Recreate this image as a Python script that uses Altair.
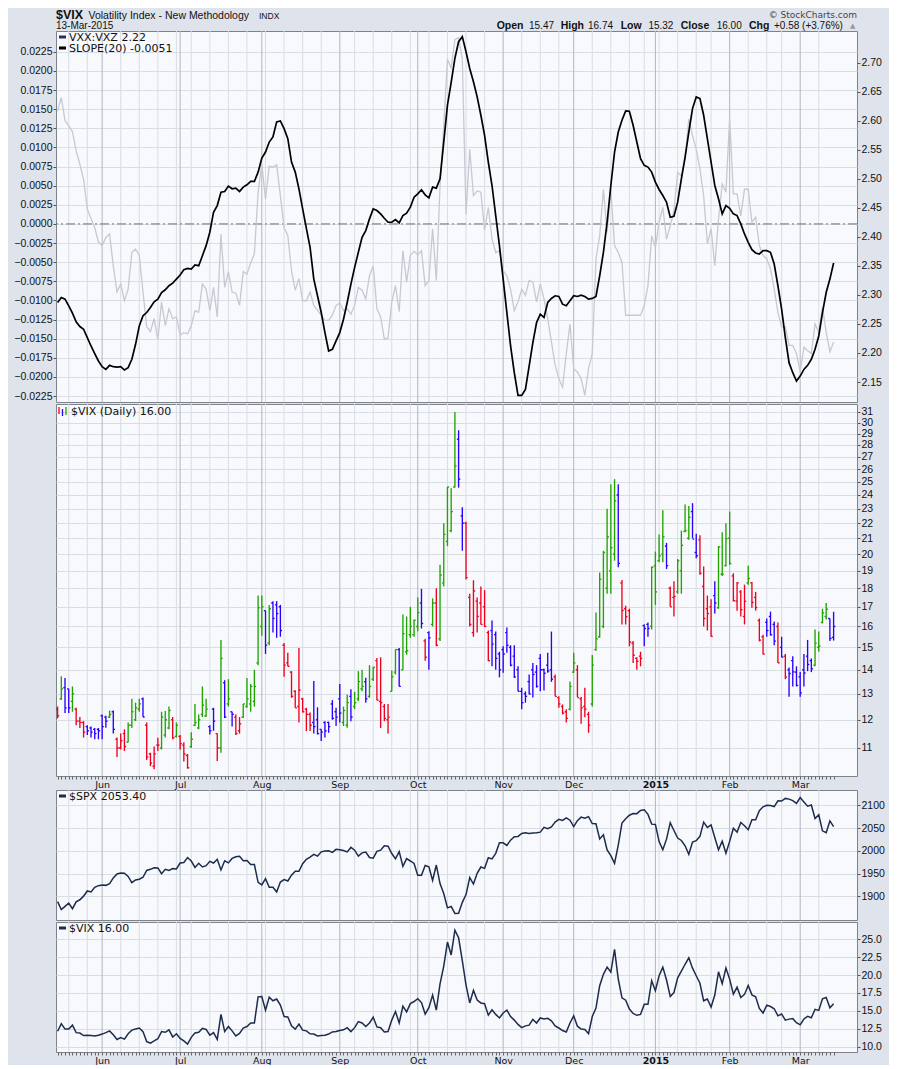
import altair as alt
import pandas as pd

# ---------------- data ----------------
# trading-day index 0 = 14-May-2014 ... 209 = 13-Mar-2015
month_idx = [12, 33, 55, 76, 97, 120, 139, 161, 181, 200]
month_lab = ["Jun", "Jul", "Aug", "Sep", "Oct", "Nov", "Dec", "2015", "Feb", "Mar"]
week_idx = [3, 8, 17, 22, 27, 32, 36, 41, 46, 51, 56, 61, 66, 71, 80, 85, 90, 95,
            100, 105, 110, 115, 125, 130, 135, 144, 149, 154, 158, 162, 167, 172,
            176, 186, 191, 195, 205]

vix_color = list(
    "rgbbgrrrbb" "bbbbgbrrrg" "gggbrrrrgg" "grgrrrgggg" "gbbrgbgbrr"
    "ggggggbgbb" "brrrrrrrrb" "bbbbbbbggb" "gggbggrrrr" "ggbgggggbr"
    "bgrgggggbb" "rrrrrrrbbb" "bbbbbbbbbb" "bbbbrrrrgg" "rrrrgggggg"
    "gbrrrrrrbb" "ggggbrrggg" "gbbrrrrbgg" "ggrrrrgrrr" "rbbbrbrbbb"
    "bbbbggggbb")

vix_high = [
    12.50, 13.72, 13.65, 13.20, 13.30, 12.45, 12.10, 11.95, 11.80, 11.75,
    11.70, 11.70, 12.20, 12.15, 12.35, 12.35, 11.36, 11.50, 11.65, 11.90,
    12.80, 12.65, 12.80, 12.85, 11.90, 10.84, 11.05, 11.35, 12.30, 12.33,
    12.50, 12.10, 11.90, 11.45, 11.20, 10.80, 11.55, 12.60, 12.20, 13.30,
    12.80, 11.80, 12.45, 11.50, 15.35, 13.55, 13.60, 12.30, 12.20, 12.10,
    12.60, 13.65, 13.40, 14.00, 17.60, 17.60, 16.80, 17.10, 17.30, 17.30,
    17.10, 15.20, 14.75, 13.94, 13.14, 14.97, 12.84, 12.45, 12.27, 13.52,
    12.47, 11.65, 11.95, 11.93, 12.75, 12.45, 13.40, 12.50, 12.97, 13.18,
    13.08, 13.94, 14.00, 13.66, 14.20, 14.13, 14.52, 14.55, 12.60, 12.60,
    13.97, 14.90, 14.97, 16.60, 16.50, 17.00, 16.35, 17.50, 17.97, 15.40,
    15.76, 17.45, 18.00, 19.35, 22.00, 24.60, 24.50, 31.00, 29.30, 23.10,
    22.10, 17.70, 18.45, 17.50, 18.10, 17.90, 15.80, 16.30, 15.75, 14.80,
    15.05, 15.95, 15.10, 15.10, 14.15, 13.25, 13.10, 13.80, 14.30, 14.20,
    14.70, 14.05, 14.75, 15.75, 13.80, 12.90, 12.58, 12.40, 13.50, 14.75,
    14.20, 12.87, 13.25, 12.30, 14.65, 16.70, 18.90, 20.20, 23.00, 24.80,
    25.20, 24.80, 18.47, 17.05, 16.90, 15.30, 14.55, 14.80, 16.10, 16.20,
    19.25, 20.15, 21.25, 22.90, 20.70, 18.10, 18.40, 19.70, 21.50, 23.30,
    23.20, 23.40, 21.30, 21.20, 19.25, 17.60, 17.40, 18.40, 20.50, 21.40,
    22.00, 22.80, 18.85, 18.35, 17.90, 18.20, 19.30, 18.35, 17.80, 16.40,
    15.60, 16.40, 16.75, 16.25, 16.20, 15.50, 14.70, 14.10, 14.60, 14.15,
    13.90, 14.70, 15.35, 14.50, 15.85, 15.75, 16.90, 17.20, 16.40, 16.74]

vix_low = [
    12.05, 12.75, 12.25, 12.25, 12.30, 11.80, 11.70, 11.36, 11.45, 11.36,
    11.30, 11.30, 11.30, 11.71, 12.07, 11.50, 10.70, 10.95, 10.90, 11.20,
    11.70, 11.95, 12.30, 12.10, 10.60, 10.40, 10.30, 10.90, 10.95, 11.36,
    11.65, 11.30, 11.36, 10.95, 10.55, 10.32, 11.00, 11.77, 11.65, 12.10,
    12.10, 11.47, 11.60, 10.57, 10.84, 12.07, 12.50, 11.75, 11.45, 11.50,
    12.07, 12.45, 12.30, 12.50, 14.20, 15.55, 14.70, 15.10, 15.70, 15.45,
    15.50, 13.70, 14.15, 12.84, 12.45, 11.90, 12.27, 11.59, 11.59, 11.50,
    11.47, 11.24, 11.36, 11.53, 12.00, 11.77, 11.90, 11.77, 11.71, 11.95,
    12.40, 12.71, 13.10, 12.65, 12.84, 13.52, 12.74, 11.70, 11.95, 11.50,
    13.10, 13.80, 13.30, 14.00, 14.67, 15.45, 15.50, 15.76, 15.90, 14.40,
    14.00, 16.00, 15.05, 15.30, 18.10, 20.50, 21.40, 24.55, 24.55, 20.20,
    18.50, 16.00, 15.50, 15.70, 16.10, 15.97, 14.37, 14.15, 14.00, 13.68,
    13.87, 14.75, 14.15, 13.65, 13.10, 12.40, 12.65, 12.97, 12.85, 13.25,
    13.10, 13.13, 13.87, 13.49, 12.90, 12.45, 12.20, 11.90, 12.35, 13.87,
    12.87, 11.85, 12.09, 11.53, 12.50, 14.85, 15.45, 15.92, 17.70, 17.70,
    19.60, 19.20, 16.10, 16.10, 15.05, 14.30, 14.00, 14.15, 15.05, 15.50,
    15.85, 17.10, 19.50, 19.50, 19.10, 17.00, 16.50, 17.70, 17.70, 21.40,
    20.90, 21.00, 19.75, 18.76, 16.00, 15.80, 15.50, 16.65, 16.90, 18.70,
    19.25, 19.35, 17.28, 16.80, 16.50, 16.10, 18.20, 16.95, 16.80, 15.28,
    14.67, 15.50, 15.55, 15.10, 14.30, 14.55, 13.60, 12.88, 13.30, 13.30,
    12.88, 13.30, 13.94, 13.90, 14.15, 14.80, 16.15, 16.35, 15.30, 15.32]

vix_open = [
    12.40, 12.80, 13.25, 13.20, 12.70, 12.40, 11.95, 11.90, 11.75, 11.70,
    11.65, 11.65, 12.15, 12.10, 12.10, 12.30, 11.30, 11.00, 11.50, 11.20,
    11.80, 12.00, 12.40, 12.80, 11.80, 10.80, 10.40, 11.10, 11.00, 11.45,
    11.70, 12.00, 11.40, 11.40, 11.10, 10.75, 11.05, 11.80, 11.70, 12.20,
    12.15, 11.75, 12.40, 11.50, 11.00, 13.45, 12.60, 12.30, 12.10, 11.60,
    12.10, 12.50, 12.60, 12.70, 14.30, 16.00, 16.80, 15.20, 17.20, 17.10,
    17.00, 15.10, 14.30, 13.90, 13.10, 12.50, 12.80, 12.40, 12.20, 11.90,
    12.00, 11.65, 11.90, 11.90, 12.60, 12.30, 12.80, 11.90, 11.80, 12.90,
    12.50, 12.80, 13.20, 13.50, 12.90, 13.60, 14.40, 12.70, 12.50, 12.00,
    13.10, 13.90, 14.90, 14.00, 14.80, 15.60, 15.60, 16.00, 17.20, 15.30,
    15.70, 16.10, 17.20, 15.40, 18.30, 20.80, 21.50, 24.60, 28.50, 22.50,
    22.00, 17.50, 15.70, 17.30, 17.20, 17.00, 15.70, 15.80, 15.60, 14.70,
    14.90, 15.70, 15.00, 14.60, 14.00, 13.10, 13.00, 13.50, 14.00, 13.90,
    14.50, 14.00, 14.20, 14.00, 13.70, 12.85, 12.50, 12.30, 12.40, 13.90,
    14.00, 12.80, 12.50, 12.20, 12.60, 14.90, 15.50, 16.00, 18.00, 19.00,
    20.00, 24.00, 18.30, 16.90, 16.80, 15.20, 14.50, 14.60, 16.05, 16.10,
    16.00, 19.30, 19.60, 20.00, 20.50, 18.00, 17.50, 17.80, 19.00, 21.45,
    21.00, 22.80, 20.10, 20.90, 18.10, 16.90, 17.00, 17.60, 16.95, 18.80,
    19.30, 21.00, 18.70, 17.30, 17.80, 16.50, 18.30, 18.30, 17.50, 16.30,
    15.50, 16.20, 16.50, 16.10, 16.00, 15.00, 14.60, 14.00, 14.40, 13.90,
    13.70, 14.00, 14.60, 14.40, 14.20, 15.00, 16.20, 16.50, 16.40, 15.47]

vix_close = [
    12.15, 13.20, 12.45, 12.45, 13.00, 11.95, 11.90, 11.55, 11.60, 11.55,
    11.50, 11.60, 11.75, 11.95, 12.20, 11.65, 11.00, 11.25, 11.05, 11.80,
    12.30, 12.45, 12.60, 12.10, 10.70, 10.50, 10.80, 11.10, 12.10, 12.00,
    12.35, 11.35, 11.80, 11.15, 10.80, 10.35, 11.30, 11.90, 12.00, 12.55,
    12.40, 11.60, 11.95, 11.00, 14.50, 12.10, 12.80, 12.20, 11.50, 11.85,
    12.60, 12.80, 13.30, 13.30, 16.95, 17.00, 15.10, 16.90, 16.40, 16.65,
    15.80, 14.20, 14.15, 12.90, 12.45, 13.15, 12.30, 12.20, 11.80, 11.75,
    11.50, 11.55, 11.60, 11.75, 12.05, 12.10, 12.25, 12.35, 12.65, 12.10,
    12.65, 13.50, 13.30, 12.80, 13.30, 14.10, 12.75, 12.65, 12.05, 12.10,
    13.70, 14.90, 13.30, 15.65, 14.85, 16.00, 16.30, 16.70, 16.15, 14.55,
    15.45, 17.20, 15.10, 18.75, 21.25, 24.60, 22.80, 26.25, 25.20, 22.00,
    18.60, 16.10, 17.85, 16.50, 16.10, 16.00, 14.40, 15.15, 14.50, 14.00,
    14.70, 15.10, 14.20, 13.70, 13.10, 12.65, 12.90, 13.00, 13.80, 13.30,
    14.00, 13.85, 13.95, 13.60, 12.90, 12.60, 12.25, 12.05, 13.30, 14.30,
    12.85, 12.45, 12.40, 11.80, 14.20, 15.40, 18.50, 20.10, 21.10, 20.40,
    23.57, 19.44, 16.81, 16.49, 15.25, 14.64, 14.37, 14.50, 15.90, 15.90,
    19.20, 17.80, 19.90, 21.10, 19.30, 17.00, 17.55, 19.60, 20.55, 21.50,
    22.40, 20.95, 19.90, 18.85, 16.40, 16.65, 15.52, 17.20, 20.45, 18.80,
    20.97, 19.43, 17.33, 18.30, 16.85, 17.29, 18.55, 17.23, 16.96, 15.34,
    14.69, 15.80, 15.60, 15.29, 14.30, 14.56, 13.69, 13.84, 13.91, 13.34,
    13.04, 13.86, 14.23, 14.04, 15.20, 15.06, 16.69, 16.87, 15.42, 16.00]

spx_close = [
    1888.5, 1870.9, 1877.9, 1885.1, 1872.8, 1888.0, 1892.5, 1900.5, 1911.9, 1909.8,
    1920.0, 1923.6, 1925.0, 1924.2, 1927.9, 1940.5, 1949.4, 1951.3, 1950.8, 1943.9,
    1930.1, 1936.2, 1937.8, 1942.0, 1957.0, 1959.5, 1962.9, 1962.6, 1950.0, 1959.5,
    1957.2, 1961.0, 1960.2, 1973.3, 1974.6, 1985.4, 1977.7, 1963.7, 1972.8, 1964.7,
    1967.6, 1977.1, 1973.3, 1981.6, 1958.1, 1978.2, 1973.6, 1983.5, 1987.0, 1988.0,
    1978.3, 1978.9, 1970.0, 1970.1, 1930.7, 1925.2, 1939.0, 1920.2, 1920.2, 1909.6,
    1931.6, 1936.9, 1933.8, 1946.7, 1955.2, 1955.1, 1971.7, 1981.6, 1986.5, 1992.4,
    1988.4, 1997.9, 2000.0, 2000.1, 1996.7, 2003.4, 2002.3, 2000.7, 1997.7, 2007.7,
    2001.5, 1988.4, 1995.7, 1997.5, 1985.5, 1984.1, 1999.0, 2001.6, 2011.4, 2010.4,
    1994.3, 1982.8, 1998.3, 1966.0, 1982.9, 1977.8, 1972.3, 1946.2, 1946.2, 1967.9,
    1964.8, 1935.1, 1968.9, 1928.2, 1906.1, 1874.7, 1877.7, 1862.5, 1862.8, 1886.8,
    1904.0, 1941.3, 1927.1, 1950.8, 1964.6, 1961.6, 1985.1, 1982.3, 1994.7, 2018.1,
    2017.8, 2012.1, 2023.6, 2031.2, 2031.9, 2038.3, 2039.7, 2038.3, 2039.3, 2039.8,
    2041.3, 2051.8, 2048.7, 2052.8, 2063.5, 2069.4, 2067.0, 2072.8, 2067.6, 2053.4,
    2066.6, 2074.3, 2071.9, 2075.4, 2060.3, 2059.8, 2026.1, 2035.3, 2002.3, 1989.6,
    1972.7, 2012.9, 2061.2, 2070.7, 2078.5, 2082.2, 2081.9, 2088.8, 2090.6, 2080.4,
    2058.9, 2058.2, 2020.6, 2002.6, 2025.9, 2062.1, 2044.8, 2028.3, 2023.0, 2011.3,
    1992.7, 2019.4, 2022.6, 2032.1, 2063.2, 2051.8, 2057.1, 2029.6, 2002.2, 2021.3,
    1995.0, 2020.9, 2050.0, 2041.5, 2062.5, 2055.5, 2046.7, 2068.6, 2068.5, 2088.5,
    2097.0, 2100.3, 2099.7, 2097.5, 2110.3, 2109.7, 2115.5, 2113.9, 2110.7, 2104.5,
    2117.4, 2107.8, 2098.5, 2101.0, 2071.3, 2079.4, 2044.2, 2040.2, 2066.0, 2053.4]

slope20 = [
    -0.01027, -0.00961, -0.00983, -0.01070, -0.01167, -0.01280, -0.01341, -0.01376, -0.01485, -0.01595,
    -0.01695, -0.01791, -0.01866, -0.01901, -0.01848, -0.01866, -0.01870, -0.01866, -0.01909, -0.01879,
    -0.01769, -0.01573, -0.01333, -0.01201, -0.01158, -0.01092, -0.01018, -0.00983, -0.00896, -0.00861,
    -0.00808, -0.00773, -0.00721, -0.00668, -0.00599, -0.00581, -0.00590, -0.00537, -0.00546, -0.00415,
    -0.00284, -0.00109, 0.00153, 0.00240, 0.00415, 0.00424, 0.00494, 0.00459, 0.00467, 0.00424,
    0.00481, 0.00511, 0.00555, 0.00555, 0.00677, 0.00861, 0.00939, 0.01070, 0.01136, 0.01333,
    0.01346, 0.01245, 0.01114, 0.00808, 0.00677, 0.00459, 0.00197, -0.00057, -0.00306, -0.00721,
    -0.00939, -0.01158, -0.01420, -0.01660, -0.01638, -0.01529, -0.01420, -0.01245, -0.01027, -0.00786,
    -0.00568, -0.00371, -0.00175, -0.00087, 0.00066, 0.00197, 0.00175, 0.00131, 0.00074, 0.00022,
    0.00022, 0.00057, 0.00013, 0.00109, 0.00140, 0.00218, 0.00350, 0.00393, 0.00446, 0.00380,
    0.00341, 0.00481, 0.00467, 0.00590, 0.01070, 0.01551, 0.01850, 0.02163, 0.02381, 0.02447,
    0.02250, 0.02032, 0.01857, 0.01660, 0.01420, 0.01158, 0.00808, 0.00502, 0.00109, -0.00284,
    -0.00721, -0.01158, -0.01595, -0.01944, -0.02241, -0.02241, -0.02163, -0.01857, -0.01551, -0.01289,
    -0.01180, -0.01223, -0.01027, -0.00974, -0.00939, -0.00948, -0.01049, -0.01070, -0.01005, -0.00939,
    -0.00948, -0.00931, -0.00948, -0.00983, -0.00974, -0.00948, -0.00677, -0.00371, 0.00022, 0.00502,
    0.00939, 0.01201, 0.01354, 0.01477, 0.01472, 0.01289, 0.01070, 0.00852, 0.00765, 0.00743,
    0.00677, 0.00546, 0.00450, 0.00371, 0.00284, 0.00087, 0.00100, 0.00284, 0.00590, 0.00874,
    0.01201, 0.01507, 0.01660, 0.01638, 0.01420, 0.01114, 0.00808, 0.00502, 0.00328, 0.00131,
    0.00240, 0.00205, 0.00131, 0.00109, 0.00000, -0.00131, -0.00240, -0.00336, -0.00380, -0.00393,
    -0.00350, -0.00350, -0.00371, -0.00524, -0.00808, -0.01114, -0.01485, -0.01813, -0.01944, -0.02053,
    -0.01988, -0.01901, -0.01848, -0.01769, -0.01638, -0.01464, -0.01158, -0.00896, -0.00721, -0.00510]

vxx_vxz = [
    2.617, 2.640, 2.600, 2.591, 2.581, 2.548, 2.525, 2.499, 2.448, 2.431,
    2.416, 2.391, 2.385, 2.399, 2.405, 2.350, 2.305, 2.319, 2.290, 2.310,
    2.373, 2.379, 2.368, 2.305, 2.245, 2.237, 2.259, 2.223, 2.288, 2.247,
    2.276, 2.259, 2.262, 2.231, 2.235, 2.233, 2.247, 2.273, 2.270, 2.319,
    2.310, 2.273, 2.313, 2.262, 2.405, 2.313, 2.340, 2.305, 2.303, 2.282,
    2.340, 2.336, 2.355, 2.371, 2.477, 2.525, 2.465, 2.522, 2.520, 2.524,
    2.471, 2.416, 2.402, 2.342, 2.308, 2.328, 2.290, 2.290, 2.305, 2.282,
    2.274, 2.265, 2.256, 2.256, 2.265, 2.282, 2.286, 2.273, 2.276, 2.267,
    2.282, 2.313, 2.308, 2.293, 2.333, 2.350, 2.276, 2.262, 2.224, 2.226,
    2.288, 2.316, 2.271, 2.376, 2.322, 2.368, 2.375, 2.369, 2.376, 2.316,
    2.325, 2.414, 2.325, 2.488, 2.591, 2.706, 2.691, 2.740, 2.743, 2.706,
    2.439, 2.551, 2.471, 2.479, 2.477, 2.411, 2.451, 2.396, 2.373, 2.376,
    2.342, 2.333, 2.310, 2.273, 2.288, 2.310, 2.299, 2.325, 2.322, 2.288,
    2.319, 2.293, 2.259, 2.219, 2.179, 2.156, 2.141, 2.199, 2.250, 2.173,
    2.167, 2.156, 2.127, 2.173, 2.199, 2.362, 2.402, 2.482, 2.408, 2.482,
    2.385, 2.373, 2.356, 2.265, 2.265, 2.265, 2.265, 2.265, 2.282, 2.316,
    2.402, 2.382, 2.425, 2.451, 2.396, 2.419, 2.445, 2.511, 2.505, 2.534,
    2.603, 2.574, 2.551, 2.517, 2.471, 2.388, 2.414, 2.350, 2.431, 2.491,
    2.477, 2.605, 2.474, 2.474, 2.436, 2.482, 2.482, 2.425, 2.434, 2.385,
    2.368, 2.362, 2.345, 2.310, 2.270, 2.245, 2.245, 2.213, 2.213, 2.199,
    2.167, 2.210, 2.204, 2.199, 2.250, 2.236, 2.279, 2.236, 2.202, 2.219]

slope_ticks = [round(-0.0225 + 0.0025 * k, 4) for k in range(19)]
ratio_ticks = [round(2.15 + 0.05 * k, 2) for k in range(12)]
vix_ticks = list(range(11, 32))
spx_ticks = [1900, 1950, 2000, 2050, 2100]
vixl_ticks = [10.0, 12.5, 15.0, 17.5, 20.0, 22.5, 25.0]

# ---------------- layout / style ----------------
N = len(vix_close)
idx = list(range(N))
W = 801
H_TOP, H_VIX, H_SPX, H_VL = 371, 372, 130, 130
X_DOMAIN = [-0.43, 215.3]
AX_FONT = "Liberation Sans"
LG_FONT = "DejaVu Sans"
GRID_C = "#d9dde4"
MONTH_C = "#b1b6bf"
LINE_C = "#1d2b4c"
GREEN, RED, BLUE = "#1fa400", "#f0001e", "#2a00ff"

xs = alt.Scale(domain=X_DOMAIN, nice=False, zero=False)

lab_expr = (f"indexof({month_idx}, datum.value) >= 0 ? "
            f"{month_lab}[indexof({month_idx}, datum.value)] : ''")


def x_axis():
    return alt.Axis(values=idx, labelExpr=lab_expr, tickSize=3, tickColor="#666",
                    labelPadding=0, labelFont=LG_FONT, labelFontSize=9.5,
                    labelColor="#111", labelOverlap=False, labelFlush=False,
                    domain=False, grid=False, title=None,
                    labelFontWeight={"condition": {"test": "datum.value == 161", "value": "bold"},
                                     "value": "normal"})


def xenc(with_axis):
    return alt.X("i:Q", scale=xs, axis=x_axis() if with_axis else None)


def y_right(values, fmt, grid=True):
    return alt.Axis(orient="right", values=values, format=fmt, grid=grid, gridColor=GRID_C,
                    tickSize=3, tickColor="#555", labelPadding=1, labelFont=AX_FONT,
                    labelFontSize=10.5, labelColor="#111", domain=False, title=None,
                    labelOverlap=False)


one = pd.DataFrame({"a": [0]})
week_df = pd.DataFrame({"i": week_idx})
month_df = pd.DataFrame({"i": month_idx})


def vgrid(with_axis=False):
    w = alt.Chart(week_df).mark_rule(color=GRID_C, strokeWidth=1).encode(x=xenc(with_axis))
    m = alt.Chart(month_df).mark_rule(color=MONTH_C, strokeWidth=1).encode(x=xenc(with_axis))
    return [w, m]


def spacer():
    return alt.Chart(one).mark_text(text="0", opacity=0, align="left", fontSize=10).encode(
        x=alt.value(-47), y=alt.value(12))


def text(t, x, y, size=11, weight="normal", font=LG_FONT, align="left", color="#111",
         baseline="middle"):
    return alt.Chart(one).mark_text(text=t, align=align, baseline=baseline, font=font,
                                    fontSize=size, fontWeight=weight, color=color).encode(
        x=alt.value(x), y=alt.value(y))


def icon(color, y):
    return alt.Chart(one).mark_rule(color=color, strokeWidth=3).encode(
        x=alt.value(3), x2=alt.value(10), y=alt.value(y))


# ---------------- panel 1 : SLOPE(20) and VXX:VXZ ----------------
top_df = pd.DataFrame({"i": idx, "slope": slope20, "ratio": vxx_vxz})
slope_scale = alt.Scale(domain=[-0.02327, 0.02521], nice=False, zero=False)
ratio_scale = alt.Scale(domain=[2.1156, 2.7545], nice=False, zero=False)

zero_line = alt.Chart(pd.DataFrame({"v": [0.0]})).mark_rule(
    color="#6d7078", strokeWidth=1, strokeDash=[9, 3, 2, 3]).encode(
    y=alt.Y("v:Q", scale=slope_scale, axis=None))

ratio_line = alt.Chart(top_df).mark_line(color="#c5c9d2", strokeWidth=1.3).encode(
    x=xenc(False),
    y=alt.Y("ratio:Q", scale=ratio_scale, axis=y_right(ratio_ticks, ".2f", grid=False)))

slope_line = alt.Chart(top_df).mark_line(color="#000000", strokeWidth=1.7).encode(
    x=xenc(False),
    y=alt.Y("slope:Q", scale=slope_scale,
            axis=alt.Axis(orient="left", values=slope_ticks, format=".4f", grid=True,
                          gridColor=GRID_C, tickSize=3, tickColor="#555", labelPadding=1,
                          labelFont=AX_FONT, labelFontSize=10.5, labelColor="#111",
                          domain=False, title=None, labelOverlap=False)))

hdr_lab = ["Open", "High", "Low", "Close", "Chg"]
chg = vix_close[-1] - vix_close[-2]
hdr_val = [f"{vix_open[-1]:.2f}", f"{vix_high[-1]:.2f}", f"{vix_low[-1]:.2f}",
           f"{vix_close[-1]:.2f}", f"{chg:+.2f} ({chg / vix_close[-2] * 100:+.2f}%)"]
hdr_lab_x = [440.7, 504.7, 564.7, 624.7, 693.0]
hdr_val_x = [473.0, 532.0, 592.4, 660.7, 718.0]
HDR_Y = -2
TITLE_Y = -12

top_layers = vgrid() + [zero_line, ratio_line, slope_line, spacer(),
    text("$VIX", 0, TITLE_Y, size=12.5, weight="bold", font=AX_FONT, baseline="alphabetic"),
    text("Volatility Index - New Methodology", 32.5, TITLE_Y, size=10.5, font=AX_FONT,
         baseline="alphabetic"),
    text("INDX", 203, TITLE_Y, size=8.5, font=AX_FONT, baseline="alphabetic"),
    text("13-Mar-2015", 0, HDR_Y, size=10, font=AX_FONT, baseline="alphabetic"),
    text("\u00a9 StockCharts.com", 801, -13, size=9, align="right", color="#444",
         baseline="alphabetic"),
    text("\u25b2", 794, HDR_Y - 1, size=7, color="#999", baseline="alphabetic"),
    icon("#1f3466", 6), icon("#000000", 17),
    text(f"VXX:VXZ {vxx_vxz[-1]:.2f}", 13, 6.5, size=11),
    text(f"SLOPE(20) {slope20[-1]:.4f}", 13, 17.5, size=11)]
for t, xx in zip(hdr_lab, hdr_lab_x):
    top_layers.append(text(t, xx, HDR_Y, size=10.5, weight="bold", font=AX_FONT,
                           baseline="alphabetic"))
for t, xx in zip(hdr_val, hdr_val_x):
    top_layers.append(text(t, xx, HDR_Y, size=10, font=AX_FONT, baseline="alphabetic"))

top = alt.layer(*top_layers).resolve_scale(y="independent").properties(width=W, height=H_TOP)

# ---------------- panel 2 : VIX daily OHLC ----------------
vix_df = pd.DataFrame({"i": idx, "o": vix_open, "h": vix_high, "l": vix_low,
                       "c": vix_close, "col": vix_color})
vix_scale = alt.Scale(type="log", domain=[10.09, 31.77], nice=False)
cscale = alt.Scale(domain=["g", "r", "b"], range=[GREEN, RED, BLUE])
vix_axis = y_right(vix_ticks, "d")

bars = alt.Chart(vix_df).mark_rule(strokeWidth=1.35).encode(
    x=xenc(True),
    y=alt.Y("l:Q", scale=vix_scale, axis=vix_axis),
    y2="h:Q",
    color=alt.Color("col:N", scale=cscale, legend=None))
opens = alt.Chart(vix_df).mark_rule(strokeWidth=1.35, xOffset=-1.7, x2Offset=0).encode(
    x=xenc(True), x2="i:Q", y=alt.Y("o:Q", scale=vix_scale, axis=vix_axis),
    color=alt.Color("col:N", scale=cscale, legend=None))
closes = alt.Chart(vix_df).mark_rule(strokeWidth=1.35, xOffset=0, x2Offset=1.7).encode(
    x=xenc(True), x2="i:Q", y=alt.Y("c:Q", scale=vix_scale, axis=vix_axis),
    color=alt.Color("col:N", scale=cscale, legend=None))

mini = [alt.Chart(one).mark_rule(color=c, strokeWidth=1.3).encode(
    x=alt.value(xx), y=alt.value(y1), y2=alt.value(y2))
    for c, xx, y1, y2 in [(RED, 3, 3, 10), (BLUE, 6.5, 5, 12), (GREEN, 10, 3, 11)]]

vixp = alt.layer(*(vgrid(True) + [bars, opens, closes, spacer()] + mini + [
    text(f"$VIX (Daily) {vix_close[-1]:.2f}", 15, 8, size=11)])).properties(
    width=W, height=H_VIX)

# ---------------- panel 3 : SPX ----------------
spx_df = pd.DataFrame({"i": idx, "spx": spx_close})
spx_line = alt.Chart(spx_df).mark_line(color=LINE_C, strokeWidth=1.5).encode(
    x=xenc(False),
    y=alt.Y("spx:Q", scale=alt.Scale(domain=[1848, 2134], nice=False, zero=False),
            axis=y_right(spx_ticks, "d")))
spxp = alt.layer(*(vgrid() + [spx_line, spacer(), icon(LINE_C, 6),
                              text(f"$SPX {spx_close[-1]:.2f}", 13, 6.5, size=11)])).properties(
    width=W, height=H_SPX)

# ---------------- panel 4 : VIX line ----------------
vl_df = pd.DataFrame({"i": idx, "c": vix_close})
vl_line = alt.Chart(vl_df).mark_line(color=LINE_C, strokeWidth=1.5).encode(
    x=xenc(True),
    y=alt.Y("c:Q", scale=alt.Scale(domain=[9.25, 27.4], nice=False, zero=False),
            axis=y_right(vixl_ticks, ".1f")))
vlp = alt.layer(*(vgrid(True) + [vl_line, spacer(), icon(LINE_C, 6),
                                 text(f"$VIX {vix_close[-1]:.2f}", 13, 6.5, size=11)])).properties(
    width=W, height=H_VL)

chart = alt.vconcat(top, vixp, spxp, vlp, spacing=0).properties(
    padding={"left": 0, "top": 0, "right": 4, "bottom": 0}
).configure(background="#dfe4ec").configure_view(
    stroke="#7d828b", strokeWidth=1, fill="#f7f9fc")

chart.save("out.html", embed_options={"renderer": "svg", "actions": False})
